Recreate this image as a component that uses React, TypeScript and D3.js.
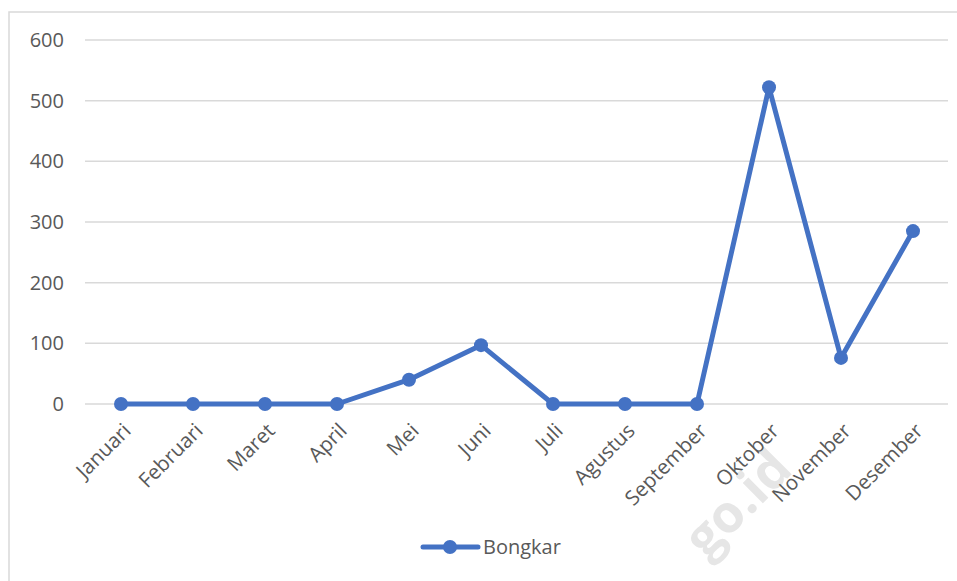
import React from "react";
import * as d3 from "d3";

const months = ["Januari","Februari","Maret","April","Mei","Juni","Juli","Agustus","September","Oktober","November","Desember"];
const bongkar = [0,0,0,0,40,97,0,0,0,522,76,285];
const yTicks = [0,100,200,300,400,500,600];
const seriesName = "Bongkar";

const W = 957, H = 581;
const FONT = "'Open Sans', sans-serif";
const BLUE = "#4472C4";

export default function App() {
  const x = d3.scaleBand<string>().domain(months).range([85, 949]);
  const y = d3.scaleLinear().domain([0, 600]).range([404, 40]);
  const cx = (m: string) => (x(m) as number) + x.bandwidth() / 2;
  const line = d3.line<number>().x((_, i) => cx(months[i])).y(d => y(d));

  return (
    <svg width={W} height={H} style={{ position: "absolute", top: 0, left: 0, background: "#fff" }}>
      <rect x={9} y={12} width={W + 10} height={H + 10} fill="#fff" stroke="#d9d9d9" strokeWidth={1.5} />
      <text transform="translate(706,560) rotate(-45)" fontFamily={FONT} fontWeight="bold" fontSize={52} fill="#e6e6e6">go.id</text>
      {yTicks.map(t => (
        <g key={t}>
          <line x1={85} x2={948} y1={y(t)} y2={y(t)} stroke="#d9d9d9" strokeWidth={1.5} />
          <text x={64} y={y(t)} dy="0.35em" textAnchor="end" fontFamily={FONT} fontSize={20} fill="#595959">{t}</text>
        </g>
      ))}
      {months.map(m => (
        <text key={m} transform={`translate(${cx(m) + 6},${427}) rotate(-45)`} textAnchor="end" dy="0.35em"
          fontFamily={FONT} fontSize={20.5} fill="#595959">{m}</text>
      ))}
      <path d={line(bongkar) || ""} fill="none" stroke={BLUE} strokeWidth={5} strokeLinejoin="round" />
      {bongkar.map((v, i) => (
        <circle key={i} cx={cx(months[i])} cy={y(v)} r={7} fill={BLUE} />
      ))}
      <g>
        <line x1={423} x2={478} y1={547} y2={547} stroke={BLUE} strokeWidth={5} strokeLinecap="round" />
        <circle cx={450} cy={547} r={7} fill={BLUE} />
        <text x={483} y={547} dy="0.35em" fontFamily={FONT} fontSize={20} fill="#595959">{seriesName}</text>
      </g>
    </svg>
  );
}
